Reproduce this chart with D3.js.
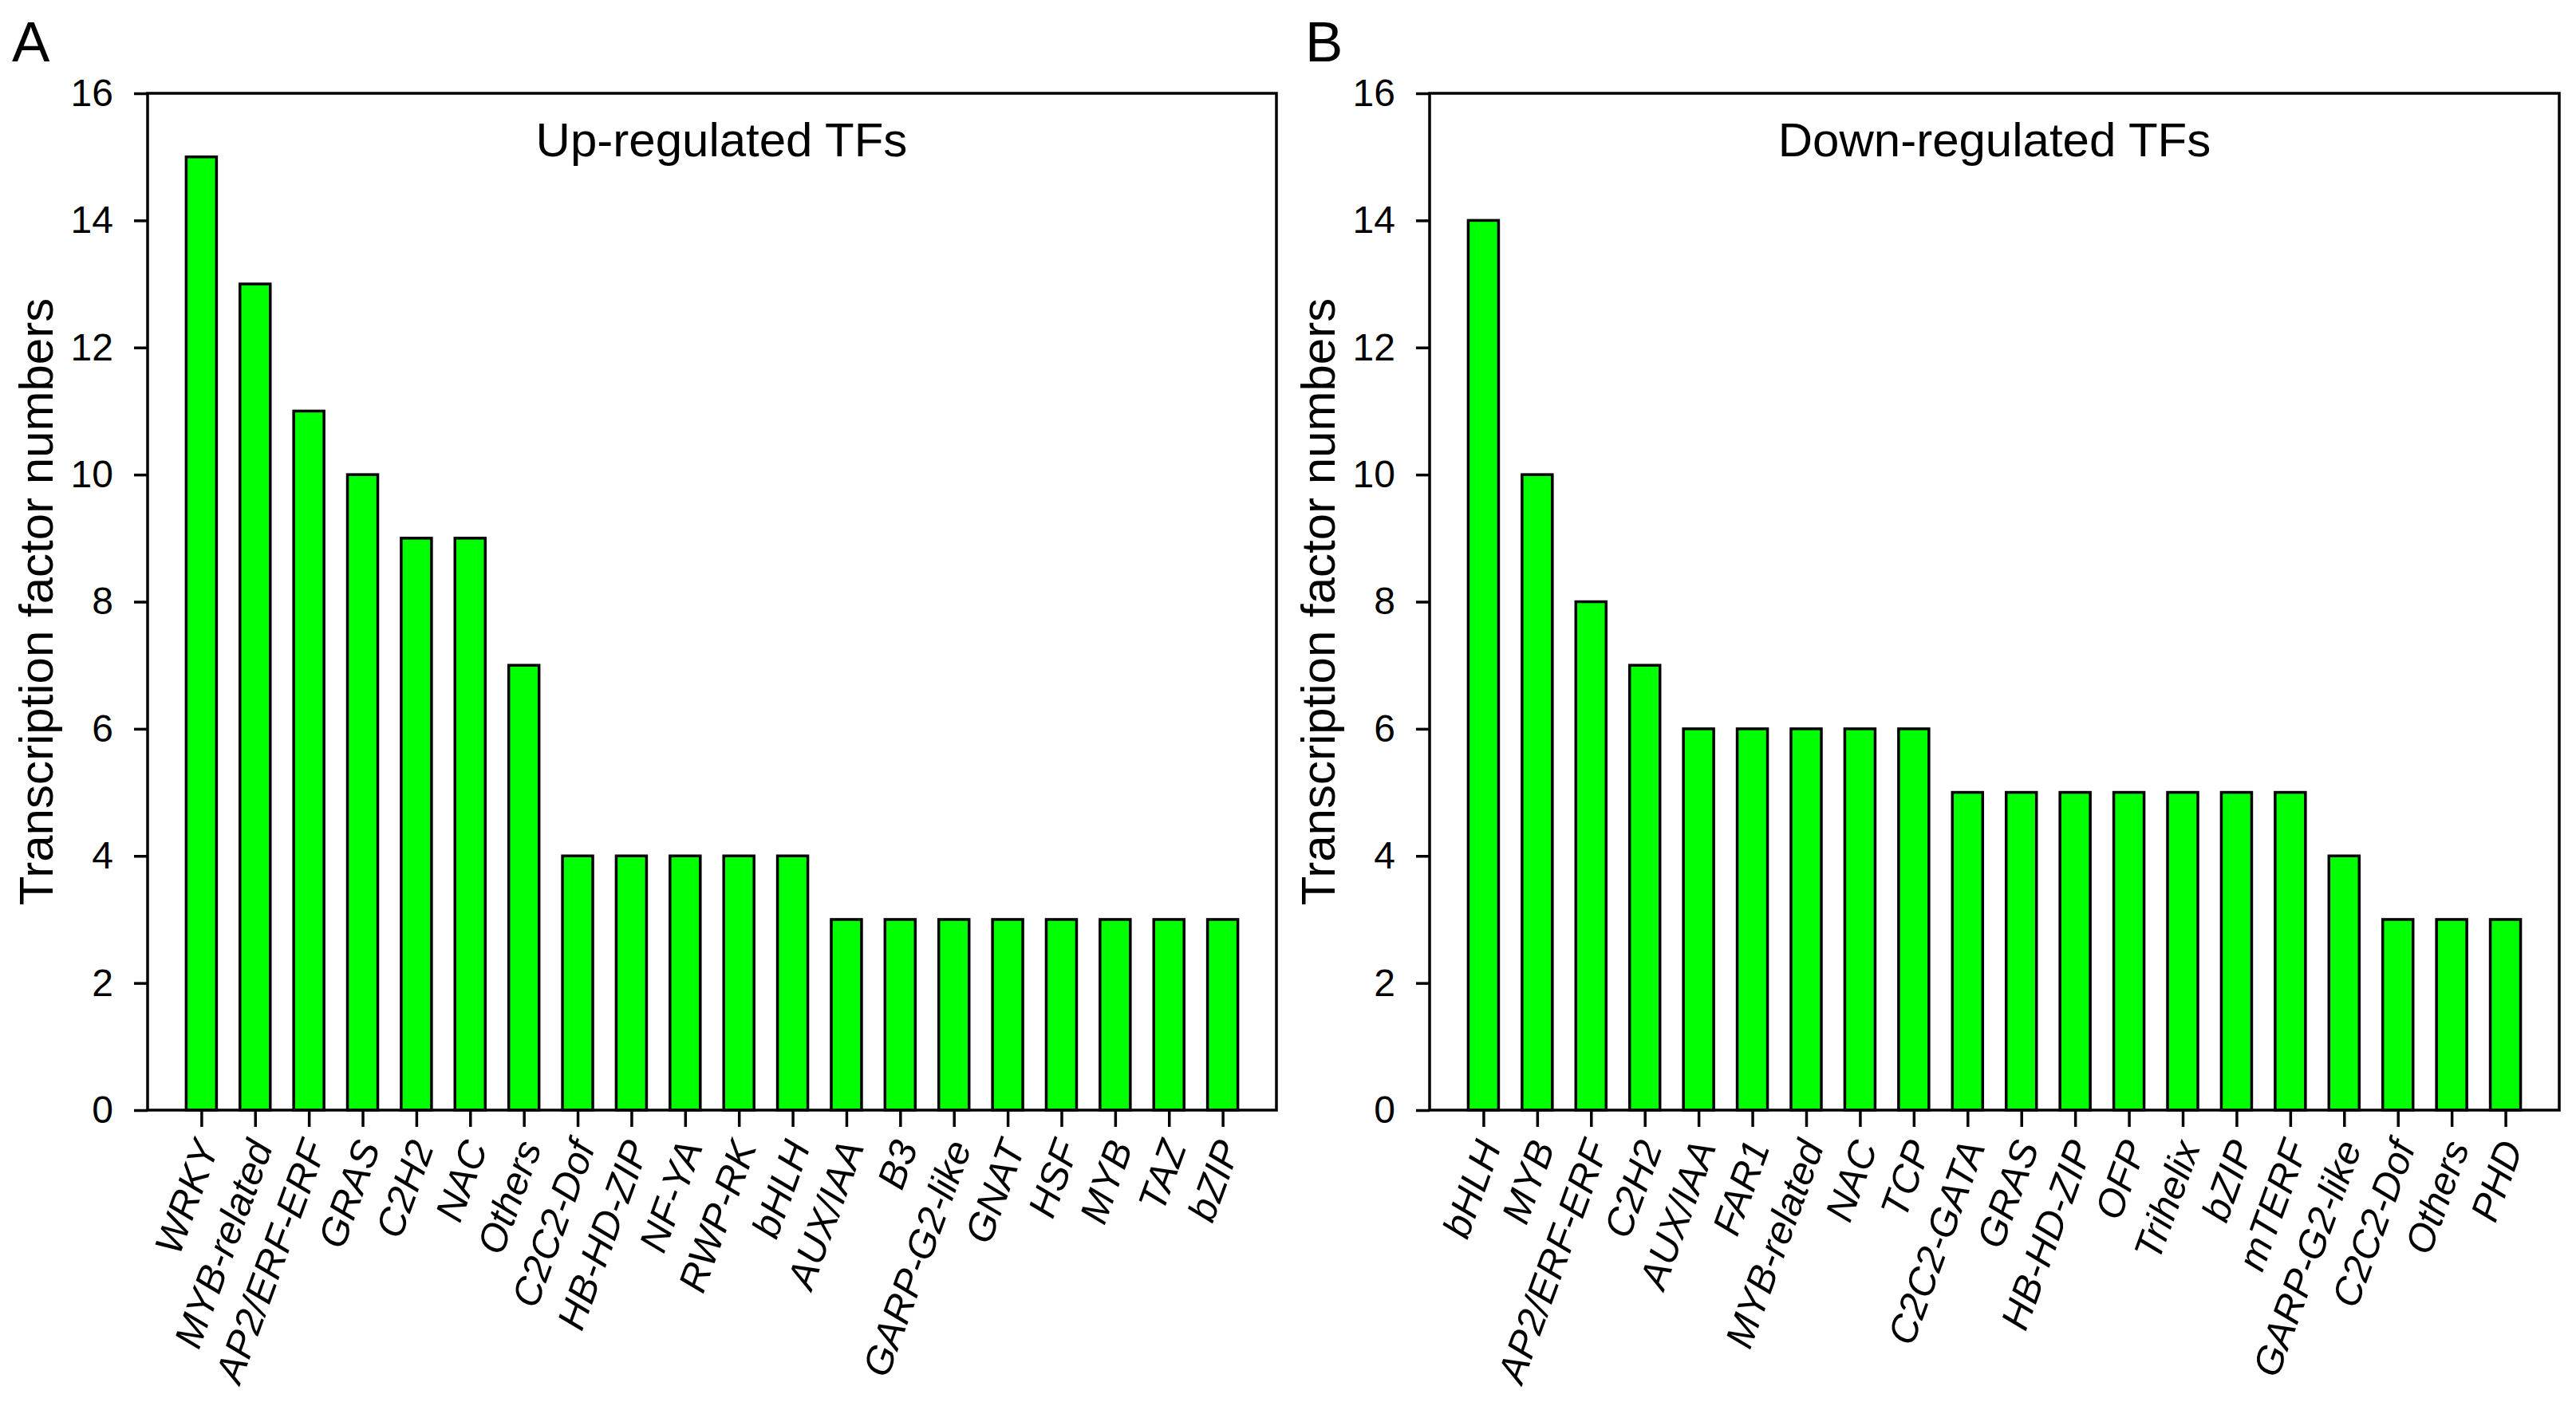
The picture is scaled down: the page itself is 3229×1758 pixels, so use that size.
<!DOCTYPE html>
<html>
<head>
<meta charset="utf-8">
<script src="https://cdn.jsdelivr.net/npm/d3@7"></script>
<style>
  body { margin: 0; background: #fff; }
  text { font-family: "Liberation Sans", Arial, sans-serif; fill: #000; }
</style>
</head>
<body>
<div id="chart"></div>
<script>

// Data  - - - - - - - - - - - - - - - - - - - - - - - - - - - - - - - - - - - - - - - - - - - -
var upCategories = ["WRKY", "MYB-related", "AP2/ERF-ERF", "GRAS", "C2H2", "NAC", "Others",
                    "C2C2-Dof", "HB-HD-ZIP", "NF-YA", "RWP-RK", "bHLH", "AUX/IAA", "B3",
                    "GARP-G2-like", "GNAT", "HSF", "MYB", "TAZ", "bZIP"]
var upCounts = [15, 13, 11, 10, 9, 9, 7, 4, 4, 4, 4, 4, 3, 3, 3, 3, 3, 3, 3, 3]

var downCategories = ["bHLH", "MYB", "AP2/ERF-ERF", "C2H2", "AUX/IAA", "FAR1", "MYB-related",
                      "NAC", "TCP", "C2C2-GATA", "GRAS", "HB-HD-ZIP", "OFP", "Trihelix", "bZIP",
                      "mTERF", "GARP-G2-like", "C2C2-Dof", "Others", "PHD"]
var downCounts = [14, 10, 8, 7, 6, 6, 6, 6, 6, 5, 5, 5, 5, 5, 5, 5, 4, 3, 3, 3]

var yTicks = [0, 2, 4, 6, 8, 10, 12, 14, 16]
var yLabel = "Transcription factor numbers"

// Canvas  - - - - - - - - - - - - - - - - - - - - - - - - - - - - - - - - - - - - - - - - - - -
var svgWidth = 3229
  , svgHeight = 1758
  , plotTop = 117
  , plotBottom = 1392
  , barWidth = 38
  , lineW = 3.5

var svg = d3.select("#chart").append("svg")
    .attr("width", svgWidth)
    .attr("height", svgHeight)

svg.append("rect").attr("width", svgWidth).attr("height", svgHeight).attr("fill", "#fff")

// layout of the two panels (A left, B right)
var panels = [
  {letter: "A", letterX: 15, title: "Up-regulated TFs", titleShift: 12, cats: upCategories, vals: upCounts, left: 185, right: 1600},
  {letter: "B", letterX: 1636, title: "Down-regulated TFs", titleShift: 0, cats: downCategories, vals: downCounts, left: 1792, right: 3208}
]

var y = d3.scaleLinear().domain([0, 16]).range([plotBottom, plotTop])

panels.forEach(function(p) {

    var g = svg.append("g")

    var x = d3.scalePoint()
        .domain(p.cats)
        .range([p.left, p.right])
        .padding(1)

    // bars
    g.selectAll("rect.bar")
        .data(p.cats)
      .enter().append("rect")
        .attr("class", "bar")
        .attr("x", function(d) { return x(d) - barWidth / 2 })
        .attr("width", barWidth)
        .attr("y", function(d, i) { return y(p.vals[i]) })
        .attr("height", function(d, i) { return plotBottom - y(p.vals[i]) })
        .attr("fill", "#00ff00")
        .attr("stroke", "#000")
        .attr("stroke-width", lineW)

    // frame
    g.append("rect")
        .attr("x", p.left).attr("y", plotTop)
        .attr("width", p.right - p.left).attr("height", plotBottom - plotTop)
        .attr("fill", "none")
        .attr("stroke", "#000")
        .attr("stroke-width", lineW)

    // y axis
    var yAxis = g.append("g")
        .attr("transform", "translate(" + p.left + ",0)")
        .call(d3.axisLeft(y).tickValues(yTicks).tickSize(17).tickPadding(26))
    yAxis.select(".domain").remove()
    yAxis.selectAll("line").attr("stroke-width", lineW)
    yAxis.selectAll("text")
        .attr("font-size", 48)
        .style("font-family", "'Liberation Sans', Arial, sans-serif")

    // x axis - rotated category labels
    var xAxis = g.append("g")
        .attr("transform", "translate(0," + plotBottom + ")")
        .call(d3.axisBottom(x).tickSize(21).tickSizeOuter(0))
    xAxis.select(".domain").remove()
    xAxis.selectAll("line").attr("stroke-width", lineW)
    xAxis.selectAll("text")
        .attr("font-size", 49)
        .style("font-family", "'Liberation Sans', Arial, sans-serif")
        .style("font-style", "italic")
        .attr("text-anchor", "end")
        .attr("x", 0)
        .attr("y", 0)
        .attr("dy", "0.35em")
        .attr("transform", "translate(6,40) rotate(-70)")

    // y axis title
    g.append("text")
        .attr("transform", "translate(" + (p.left - 140) + "," + ((plotTop + plotBottom) / 2) + ") rotate(-90)")
        .attr("text-anchor", "middle")
        .attr("dy", "0.35em")
        .attr("font-size", 60)
        .text(yLabel)

    // panel title
    g.append("text")
        .attr("x", (p.left + p.right) / 2 + p.titleShift)
        .attr("y", 196)
        .attr("text-anchor", "middle")
        .attr("font-size", 60)
        .text(p.title)

    // panel letter
    g.append("text")
        .attr("x", p.letterX)
        .attr("y", 77)
        .attr("font-size", 71)
        .text(p.letter)
})

</script>
</body>
</html>
